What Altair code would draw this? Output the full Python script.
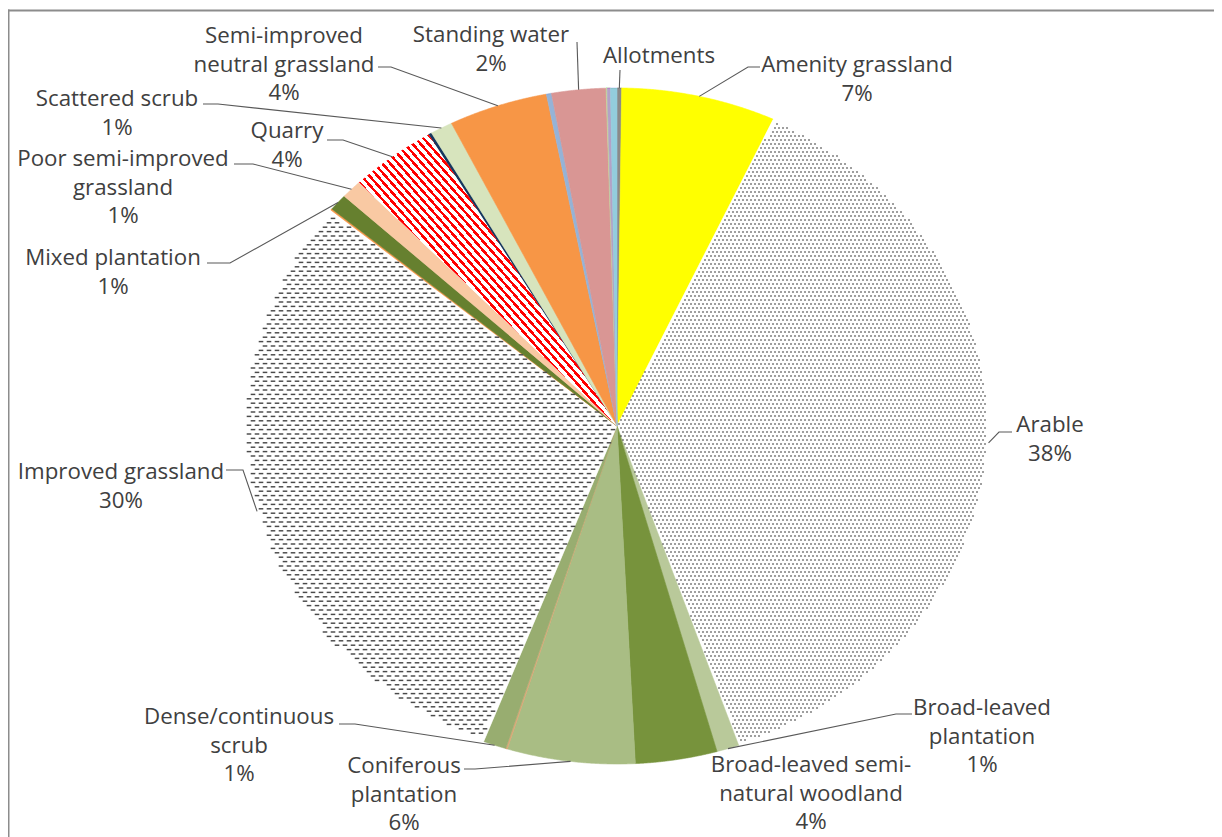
import altair as alt
import pandas as pd
import numpy as np

# ---------------- data ----------------
categories = [
    "Allotments", "Amenity grassland", "Arable", "Broad-leaved plantation",
    "Broad-leaved semi-natural woodland", "Coniferous plantation", "Unlabelled A",
    "Dense/continuous scrub", "Improved grassland", "Unlabelled B", "Mixed plantation",
    "Poor semi-improved grassland", "Quarry", "Unlabelled C", "Scattered scrub",
    "Semi-improved neutral grassland", "Unlabelled D", "Standing water",
    "Unlabelled E", "Unlabelled F", "Unlabelled G",
]
values = [0.2, 6.7, 37.8, 0.97, 3.55, 5.55, 0.07, 1.0, 30.2, 0.07, 0.8,
          0.9, 3.75, 0.14, 0.97, 4.3, 0.22, 2.35, 0.05, 0.14, 0.28]
colors = ["#8a8a8a", "#FFFF00", "#ffffff", "#b9c99a", "#77933C", "#a9bd84", "#d9a877",
          "#98ad70", "#ffffff", "#F79646", "#66802f", "#f9c9a3", "#ffffff", "#17375E",
          "#d7e4bd", "#F79646", "#95B3D7", "#D99694", "#C3D69B", "#B3A2C7", "#93CDDD"]

# label line texts ("{p}" is replaced by the slice percentage)
label_lines = {
    "Allotments": ["Allotments"],
    "Amenity grassland": ["Amenity grassland", "{p}"],
    "Arable": ["Arable", "{p}"],
    "Broad-leaved plantation": ["Broad-leaved", "plantation", "{p}"],
    "Broad-leaved semi-natural woodland": ["Broad-leaved semi-", "natural woodland", "{p}"],
    "Coniferous plantation": ["Coniferous", "plantation", "{p}"],
    "Dense/continuous scrub": ["Dense/continuous", "scrub", "{p}"],
    "Improved grassland": ["Improved grassland", "{p}"],
    "Mixed plantation": ["Mixed plantation", "{p}"],
    "Poor semi-improved grassland": ["Poor semi-improved", "grassland", "{p}"],
    "Quarry": ["Quarry", "{p}"],
    "Scattered scrub": ["Scattered scrub", "{p}"],
    "Semi-improved neutral grassland": ["Semi-improved", "neutral grassland", "{p}"],
    "Standing water": ["Standing water", "{p}"],
}

# ---------------- layout (page pixels) ----------------
W, H = 1206, 829
CX, CY, RX, RY = 617, 426, 372, 338
LINE_H = 28.5
FONT = "Open Sans"
FONT_SIZE = 22.3

label_pos = {  # first-line centre of each label
    "Allotments": (659, 56), "Amenity grassland": (857, 65), "Arable": (1050, 425),
    "Broad-leaved plantation": (982, 708), "Broad-leaved semi-natural woodland": (811, 765),
    "Coniferous plantation": (404, 766), "Dense/continuous scrub": (239, 717),
    "Improved grassland": (121, 472), "Mixed plantation": (113, 258),
    "Poor semi-improved grassland": (123, 159), "Quarry": (287, 131),
    "Scattered scrub": (117, 99), "Semi-improved neutral grassland": (284, 36),
    "Standing water": (491, 35),
}
leader_pts = {  # elbow, end of leader line
    "Allotments": [(620, 70)], "Amenity grassland": [(748, 67), (760, 67)],
    "Arable": [(999, 432), (1012, 432)], "Broad-leaved plantation": [(896, 714), (912, 714)],
    "Coniferous plantation": [(475, 769), (464, 769)],
    "Dense/continuous scrub": [(355, 724), (339, 724)],
    "Improved grassland": [(243, 470), (226, 470)], "Mixed plantation": [(230, 263), (207, 263)],
    "Poor semi-improved grassland": [(253, 164), (234, 164)], "Quarry": [(343, 140), (327, 140)],
    "Scattered scrub": [(218, 104), (203, 104)],
    "Semi-improved neutral grassland": [(391, 67), (378, 67)],
    "Standing water": [(577, 42)],
}


def to_dx(px):
    return (px - CX) / RX


def to_dy(py):
    return (CY - py) / RY


xdom = [to_dx(8), to_dx(8 + W)]
ydom = [to_dy(8 + H), to_dy(8)]
xs = alt.Scale(domain=xdom, nice=False, zero=False)
ys = alt.Scale(domain=ydom, nice=False, zero=False)
X = lambda f: alt.X(f, type="quantitative", scale=xs, axis=None)
Y = lambda f: alt.Y(f, type="quantitative", scale=ys, axis=None)

N = 120
slices = pd.DataFrame({
    "name": categories, "value": values, "order": list(range(len(categories))),
})
slices["steps"] = [list(range(-1, N + 2)) for _ in categories]

wedges = alt.Chart(slices).transform_window(
    cum="sum(value)", sort=[alt.SortField("order")], frame=[None, 0]
).transform_joinaggregate(total="sum(value)").transform_flatten(["steps"]).transform_calculate(
    a0="2*PI*(datum.cum - datum.value)/datum.total",
    a1="2*PI*datum.cum/datum.total",
    th=f"datum.a0 + (datum.a1 - datum.a0)*clamp(datum.steps, 0, {N})/{N}",
    px=f"(datum.steps < 0 || datum.steps > {N}) ? 0 : sin(datum.th)",
    py=f"(datum.steps < 0 || datum.steps > {N}) ? 0 : cos(datum.th)",
)
cscale = alt.Scale(domain=categories, range=colors)
pie = wedges.mark_line(filled=True, strokeWidth=0.6, interpolate="linear").encode(
    x=X("px"), y=Y("py"),
    color=alt.Color("name:N", scale=cscale, legend=None),
    stroke=alt.Stroke("name:N", scale=cscale, legend=None),
    detail="name:N",
    order="steps:Q",
)

# ---------- derived geometry ----------
vals = np.array(values)
total = vals.sum()
cum = np.cumsum(vals)
start_a = 2 * np.pi * (cum - vals) / total
end_a = 2 * np.pi * cum / total
mid = (start_a + end_a) / 2
pct = {c: f"{round(v / total * 100)}%" for c, v in zip(categories, values)}

# ---------- Quarry: red diagonal stripes via hard-stop gradient ----------
kq = categories.index("Quarry")
tt = np.linspace(start_a[kq], end_a[kq], 60)
ex = np.concatenate([[0.0], RX * np.sin(tt)])
ey = np.concatenate([[0.0], RY * np.cos(tt)])
bw, bh = ex.max() - ex.min(), ey.max() - ey.min()
per_t = 0.5 * np.sqrt(1 / bw ** 2 + 1 / bh ** 2)   # gradient units per pixel
n_str = int(np.ceil(1 / (6.0 * per_t)))
red_w = 0.42
stops = []
for i in range(n_str):
    o0, o1, o2 = i / n_str, (i + red_w) / n_str, (i + 1) / n_str
    stops += [{"offset": o0, "color": "#FF0000"}, {"offset": min(o1, 1), "color": "#FF0000"},
              {"offset": min(o1, 1), "color": "#ffffff"}, {"offset": min(o2, 1), "color": "#ffffff"}]
quarry = wedges.transform_filter(alt.datum.name == "Quarry").mark_line(
    filled=True, strokeWidth=0,
    fill={"gradient": "linear", "x1": 0, "y1": 1, "x2": 1, "y2": 0, "stops": stops},
).encode(x=X("px"), y=Y("py"), order="steps:Q")


# ---------- dotted / dashed textures ----------
def texture(name, sx_px, sy_px, xr, yr, mark):
    k = categories.index(name)
    a0, a1 = float(start_a[k]) + 0.006, float(end_a[k]) - 0.006
    nx = int((xr[1] - xr[0]) * RX / sx_px) + 1
    ny = int((yr[1] - yr[0]) * RY / sy_px) + 1
    return alt.Chart(alt.sequence(0, nx * ny, as_="idx")).transform_calculate(
        c=f"datum.idx % {nx}", r=f"floor(datum.idx / {nx})"
    ).transform_calculate(
        gx=f"{xr[0]} + (datum.c*{sx_px} + (datum.r % 2)*{sx_px / 2})/{RX}",
        gy=f"{yr[0]} + datum.r*{sy_px}/{RY}",
    ).transform_calculate(
        rr="sqrt(datum.gx*datum.gx + datum.gy*datum.gy)",
        an="atan2(datum.gx, datum.gy) < 0 ? atan2(datum.gx, datum.gy) + 2*PI : atan2(datum.gx, datum.gy)",
    ).transform_filter(
        f"datum.rr < 0.994 && datum.an > {a0} && datum.an < {a1}"
    ).mark_point(**mark).encode(x=X("gx"), y=Y("gy"))


arable_dots = texture("Arable", 4, 4, (0.0, 1.0), (-1.0, 0.93),
                      dict(shape="square", size=1.8, filled=True, color="#404040", opacity=1))
improved_dashes = texture("Improved grassland", 8, 4.4, (-1.0, 0.0), (-1.0, 0.72),
                          dict(shape="M-1,-0.32H1V0.32H-1Z", size=21, filled=True,
                               color="#4a4a4a", opacity=1))

# ---------- labels and leaders ----------
lab_rows = []
for name, lines in label_lines.items():
    lx, ly = label_pos[name]
    for i, t in enumerate(lines):
        lab_rows.append({"name": name, "text": t.replace("{p}", pct[name]),
                         "x": to_dx(lx), "y": to_dy(ly + i * LINE_H)})
labels_df = pd.DataFrame(lab_rows)

lead_rows = []
for name, pts in leader_pts.items():
    k = categories.index(name)
    lead_rows.append({"name": name, "i": 0, "x": float(np.sin(mid[k])), "y": float(np.cos(mid[k]))})
    for j, (px, py) in enumerate(pts):
        lead_rows.append({"name": name, "i": j + 1, "x": to_dx(px), "y": to_dy(py)})
leaders_df = pd.DataFrame(lead_rows)

leaders = alt.Chart(leaders_df).mark_line(color="#595959", strokeWidth=1.1).encode(
    x=X("x"), y=Y("y"), detail="name:N", order="i:Q",
)

texts = alt.Chart(labels_df).mark_text(
    font=FONT, fontSize=FONT_SIZE, color="#404040", align="center", baseline="middle"
).encode(x=X("x"), y=Y("y"), text="text:N")

frame_src = pd.DataFrame({"k": [0]})
top_rule = alt.Chart(frame_src).mark_rule(color="#8c8c8c", strokeWidth=2).encode(
    x=alt.value(0), x2=alt.value(W + 20), y=alt.value(2.5)
)
left_rule = alt.Chart(frame_src).mark_rule(color="#8c8c8c", strokeWidth=2).encode(
    x=alt.value(0.5), y=alt.value(1.5), y2=alt.value(H + 20)
)

chart = alt.layer(pie, quarry, arable_dots, improved_dashes, leaders, texts,
                  top_rule, left_rule).properties(
    width=W, height=H, padding=0, autosize="none"
).configure_view(stroke=None)

chart.save("out.html", embed_options={"renderer": "svg", "actions": False})
